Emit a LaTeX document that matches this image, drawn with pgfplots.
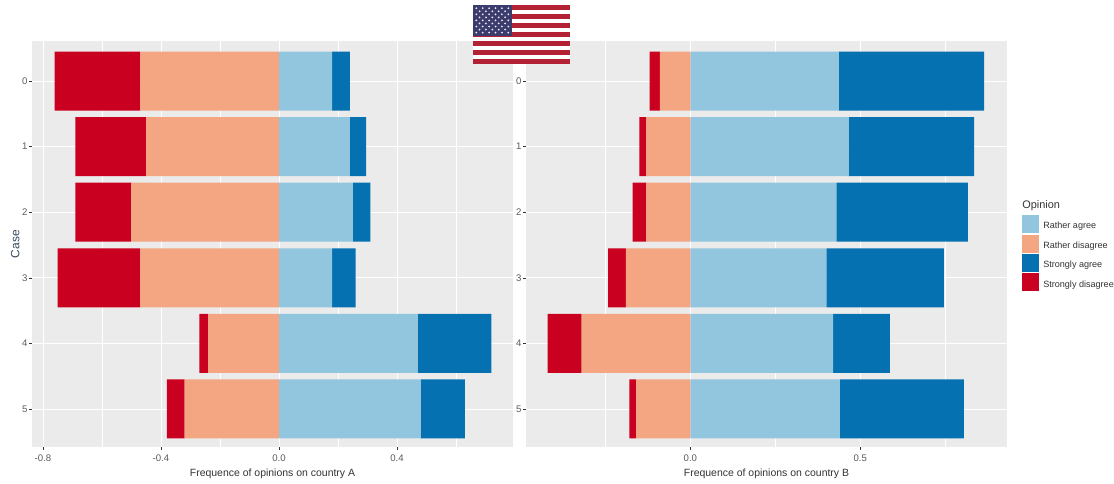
\documentclass[border=0pt]{standalone}
\usepackage{pgfplots}
\pgfplotsset{compat=1.18}
\usepackage{fontspec}
\setmainfont{Liberation Sans}
\definecolor{panel}{HTML}{EBEBEB}
\definecolor{ra}{HTML}{92C5DE}
\definecolor{rd}{HTML}{F4A582}
\definecolor{sa}{HTML}{0571B0}
\definecolor{sd}{HTML}{CA0020}
\definecolor{tickc}{HTML}{5A5A5A}
\definecolor{labc}{HTML}{333333}
\definecolor{casec}{HTML}{36475C}
\definecolor{flagr}{HTML}{B22234}
\definecolor{flagb}{HTML}{3C3B6E}
\pgfplotsset{
  rp/.style={
    scale only axis, width=360.75pt, height=304.5pt,
    anchor=north west,
    y dir=reverse, ymin=-0.61, ymax=5.58,
    ytick={0,1,2,3,4,5},
    xbar stacked, bar width=0.9,
    stack negative=separate,
    axis background/.style={fill=panel},
    axis line style={draw=none},
    grid=both,
    major grid style={white,line width=0.6pt},
    minor grid style={white,line width=0.3pt},
    tick style={draw=labc,line width=0.4pt},
    tick align=outside,
    major tick length=2.2pt,
    minor tick length=0pt,
    xtick pos=bottom, ytick pos=left,
    tick label style={font=\fontsize{7.2}{8}\selectfont,text=tickc},
    /pgf/number format/assume math mode=true,
    /pgf/number format/fixed,
    xticklabel style={/pgf/number format/fixed zerofill,/pgf/number format/precision=1},
    yticklabel style={xshift=2.3pt},
    xlabel style={font=\fontsize{7.85}{10}\selectfont,text=labc,yshift=1.5pt},
    ylabel style={font=\fontsize{9}{10}\selectfont,text=casec},
    ylabel shift=-5pt,
  },
  seg/.style={draw=none,fill=#1,forget plot},
}
% width of each segment; disagree to the left of zero, agree to the right
\pgfplotstableread{
case rd sd ra sa
0 -0.47 -0.29 0.18 0.06
1 -0.45 -0.24 0.24 0.055
2 -0.50 -0.19 0.25 0.06
3 -0.47 -0.28 0.18 0.08
4 -0.24 -0.03 0.47 0.25
5 -0.32 -0.06 0.48 0.15
}\countryA
\pgfplotstableread{
case rd sd ra sa
0 -0.09 -0.03 0.437 0.428
1 -0.13 -0.02 0.466 0.369
2 -0.13 -0.04 0.43 0.387
3 -0.19 -0.052 0.40 0.346
4 -0.32 -0.10 0.42 0.167
5 -0.16 -0.02 0.44 0.365
}\countryB
\begin{document}
\begin{tikzpicture}
\useasboundingbox (0,0) rectangle (835.5pt,-362.25pt);
\begin{axis}[rp, at={(24pt,-30.75pt)},
  xmin=-0.837, xmax=0.793,
  xtick={-0.8,-0.4,0,0.4},
  minor xtick={-0.6,-0.2,0.2,0.6},
  xlabel={Frequence of opinions on country A},
  ylabel={Case},
  ]
\addplot[seg=rd] table[x=rd,y=case]{\countryA};
\addplot[seg=sd] table[x=sd,y=case]{\countryA};
\addplot[seg=ra] table[x=ra,y=case]{\countryA};
\addplot[seg=sa] table[x=sa,y=case]{\countryA};
\end{axis}
\begin{axis}[rp, at={(394.5pt,-30.75pt)},
  xmin=-0.484, xmax=0.932,
  xtick={0,0.5},
  minor xtick={-0.25,0.25,0.75},
  xlabel={Frequence of opinions on country B},
  ]
\addplot[seg=rd] table[x=rd,y=case]{\countryB};
\addplot[seg=sd] table[x=sd,y=case]{\countryB};
\addplot[seg=ra] table[x=ra,y=case]{\countryB};
\addplot[seg=sa] table[x=sa,y=case]{\countryB};
\end{axis}
\begin{scope}[x=0.75pt,y=-0.75pt]
% legend
\node[anchor=west,inner xsep=0pt,font=\fontsize{8.2}{10}\selectfont,text=labc] at (1022,205.5) {Opinion};
\foreach \yy/\ty/\cc/\lbl in {224/226.5/ra/Rather agree,243.5/246/rd/Rather disagree,263/265.5/sa/Strongly agree,282/285/sd/Strongly disagree}{
  \fill[\cc] (1022,\yy-9) rectangle (1039,\yy+9);
  \node[anchor=west,inner xsep=0pt,font=\fontsize{6.8}{8}\selectfont,text=labc] at (1043,\ty) {\lbl};
}
% flag
\fill[white] (473,5) rectangle (570,64);
\foreach \i in {0,2,4,6,8,10,12}{
  \fill[flagr] (473,5+\i*4.54) rectangle (570,5+\i*4.54+4.54);
}
\fill[flagb] (473,5) rectangle (512,36);
\foreach \r in {0,...,8}{
  \pgfmathtruncatemacro{\n}{mod(\r,2)==0?6:5}
  \foreach \c in {1,...,\n}{
    \pgfmathsetmacro{\xx}{mod(\r,2)==0 ? 476.3+(\c-1)*6.4 : 479.5+(\c-1)*6.4}
    \fill[white!90!flagb] (\xx,8.2+\r*3.05) circle (0.75pt);
  }
}
\end{scope}
\end{tikzpicture}
\end{document}
